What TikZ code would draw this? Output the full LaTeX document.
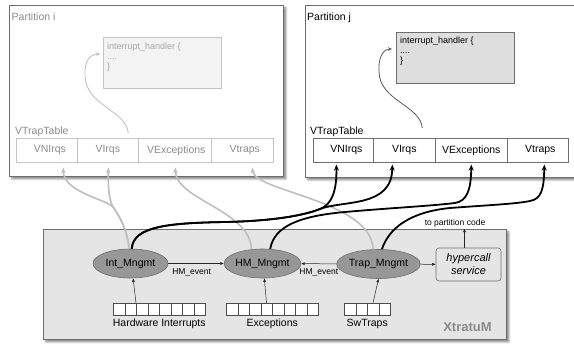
\documentclass[tikz,border=0pt]{standalone}
\usepackage{fontspec}
\setmainfont{Liberation Sans}
\usetikzlibrary{arrows.meta,shapes.geometric,calc,shadows.blur}

\definecolor{frameline}{HTML}{6E6E6E}
\definecolor{fadedtext}{HTML}{8C8C8C}
\definecolor{fadedline}{HTML}{C4C4C4}
\definecolor{fadedfill}{HTML}{F3F3F3}
\definecolor{codefill}{HTML}{DEDEDE}
\definecolor{kernelfill}{HTML}{E5E5E5}
\definecolor{mngrfill}{HTML}{979797}
\definecolor{fadedconn}{HTML}{BEBEBE}
\definecolor{brandgray}{HTML}{8A8A8A}

\begin{document}
\begin{tikzpicture}[x=1pt,y=-1pt,
  every node/.style={inner sep=0pt, font=\fontsize{10.5}{12.5}\selectfont},
  smallfont/.style={font=\fontsize{8.5}{10}\selectfont},
  codefont/.style={font=\fontsize{9}{10}\selectfont},
  shadowed/.style={blur shadow={shadow xshift=2.5pt, shadow yshift=-2.5pt,
      shadow blur steps=6, shadow blur radius=2pt, shadow opacity=50}},
  partbox/.style={draw=frameline, line width=0.7pt, fill=white, shadowed, anchor=north west},
  celli/.style={draw=fadedline, line width=0.6pt, text=fadedtext, minimum height=24, anchor=north west},
  cellj/.style={draw=frameline, line width=0.6pt, text=black, minimum height=24, anchor=north west},
  handleri/.style={draw=fadedline, line width=0.6pt, fill=fadedfill, minimum width=118, minimum height=51, anchor=north west},
  handlerj/.style={draw=frameline, line width=0.6pt, fill=codefill, minimum width=118, minimum height=51, anchor=north west},
  codetext/.style={codefont, align=left, anchor=north west},
  mngr/.style={ellipse, draw=frameline, line width=0.6pt, fill=mngrfill, minimum width=75, minimum height=29},
  slot/.style={draw=black!70, line width=0.5pt, fill=white, minimum width=11.5, minimum height=12, anchor=north west},
  thinarrow/.style={draw=black!85, line width=0.5pt, -{Latex[length=3.5pt,width=3pt]}},
  calli/.style={draw=fadedconn, line width=0.8pt, -{Stealth[length=4pt,width=3.5pt]}},
  callj/.style={draw=black!65, line width=0.8pt, -{Stealth[length=4pt,width=3.5pt]}},
  fadedpath/.style={draw=fadedconn, line width=1.6pt, -{Stealth[length=5.5pt,width=4.5pt]}},
  kernelpath/.style={draw=black, line width=1.8pt, -{Stealth[length=6pt,width=5pt]}}
]
\useasboundingbox (0,0) rectangle (574,346);
\begin{scope}
\clip (0,0) rectangle (574,346);

% ---------- partition i (inactive, drawn faded) ----------
\node[partbox, minimum width=274, minimum height=171] (parti) at (9,5) {};
\node[anchor=base west, text=fadedtext] (titlei) at (11.5,20) {Partition i};
\node[handleri] (hi) at (103,37) {};
\node[codetext, text=black!35] (codei) at ($(hi.north west)+(4,5.5)$) {interrupt\_handler \{\\....\\\}};
\node[anchor=base west, text=fadedtext] (vti) at (15,134.5) {VTrapTable};
\node[celli, minimum width=61] (i1) at (16,138) {\hspace{6pt}VNIrqs};
\node[celli, minimum width=61] (i2) at (77,138) {VIrqs};
\node[celli, minimum width=73] (i3) at (138,138) {\hspace{3pt}VExceptions};
\node[celli, minimum width=62] (i4) at (211,138) {\hspace{5pt}Vtraps};
\coordinate (iq) at ($(i2.north)+(20.5,-5)$);
\coordinate (ih) at ($(hi.north west)+(-3,17)$);
\draw[calli] (iq) .. controls (126,110) and (86,106) .. (85,76)
                  .. controls (84,60) and (91,54) .. (ih);

% ---------- partition j (active) ----------
\node[partbox, minimum width=285, minimum height=172] (partj) at (305,5) {};
\node[anchor=base west] (titlej) at (307,20) {Partition j};
\node[handlerj] (hj) at (396,32) {};
\node[codetext] (codej) at ($(hj.north west)+(4,4.5)$) {interrupt\_handler \{\\....\\\}};
\node[anchor=base west] (vtj) at (310,134.5) {VTrapTable};
\node[cellj, minimum width=60] (j1) at (313,138) {\hspace{6pt}VNIrqs};
\node[cellj, minimum width=62] (j2) at (373,138) {VIrqs};
\node[cellj, minimum width=72] (j3) at (435,138) {VExceptions};
\node[cellj, minimum width=61] (j4) at (507,138) {\hspace{5pt}Vtraps};
\coordinate (jq) at ($(j2.north)+(18,-10)$);
\coordinate (jh) at ($(hj.north west)+(-4,17)$);
\draw[callj] (jq) .. controls (420,105) and (380,101) .. (379,72)
                  .. controls (378,56) and (384,49) .. (jh);

% ---------- hypervisor ----------
\node[draw=frameline, line width=0.7pt, fill=kernelfill, shadowed, anchor=north west,
      minimum width=463, minimum height=110] (xm) at (43,229) {};
\node[font=\fontsize{13}{15}\selectfont\bfseries, text=brandgray] (brand) at (467.5,327) {XtratuM};

\node[mngr] (Int) at (130.5,263.5) {Int\_Mngmt};
\node[mngr] (HM) at (262.5,263.5) {HM\_Mngmt};
\node[mngr] (Trap) at (378.5,264) {Trap\_Mngmt};
\node[draw=frameline, line width=0.6pt, rounded corners=3pt, fill=kernelfill,
      minimum width=65, minimum height=33, align=center,
      font=\fontsize{11}{13}\selectfont\itshape] (hyper) at (468.5,264.5) {hypercall\\service};

\draw[thinarrow] (Int) -- node[smallfont, below=5pt, pos=0.42] (ev1) {HM\_event} (HM);
\draw[thinarrow] (Trap) -- node[smallfont, below=5pt] (ev2) {HM\_event} (HM);
\draw[thinarrow] (Trap) -- (hyper);

\node[smallfont] (topc) at (455,223) {to partition code};
\coordinate (hup) at ($(hyper.north)+(-4,0)$);
\draw[thinarrow, shorten >=1.5pt] (hup) -- (hup |- topc.south);

% event sources
\foreach \k in {0,...,7} \node[slot] (hw\k) at (113+11.5*\k,303) {};
\foreach \k in {0,...,7} \node[slot] (ex\k) at (226+11.5*\k,303) {};
\foreach \k in {0,...,3} \node[slot] (sw\k) at (344+11.5*\k,303) {};
\node[anchor=north] (hwlabel) at ($(hw0.south west)!0.5!(hw7.south east)+(0,3)$) {Hardware Interrupts};
\node[anchor=north] (exlabel) at ($(ex0.south west)!0.5!(ex7.south east)+(0,3)$) {Exceptions};
\node[anchor=north] (swlabel) at ($(sw0.south west)!0.5!(sw3.south east)+(0,3)$) {SwTraps};

\draw[thinarrow] (hw2.north west) -- (Int.-80);
\draw[thinarrow] (ex3.north) -- (HM.-83);
\draw[thinarrow] (sw2.north) -- (Trap.south);

% ---------- virtual trap delivery to partition i ----------
\coordinate (gsplit) at (113,207);
\coordinate (gt1) at ($(i1.south)+(16.5,5)$);
\coordinate (gt2) at ($(i2.south)+(0.5,5)$);
\coordinate (gt3) at ($(i3.south)+(0.5,5)$);
\coordinate (gt4) at ($(i4.south)+(10,5)$);
\draw[fadedpath] (Int.95) .. controls (127,228) and (118,214) .. (gsplit)
                 .. controls (108,200) and (63,192) .. (gt1);
\draw[fadedpath] (Int.95) .. controls (127,228) and (118,214) .. (gsplit)
                 .. controls (109,199) and (108,188) .. (gt2);
\draw[fadedpath] (HM.128) .. controls (250,210) and (176,200) .. (gt3);
\draw[fadedpath] (Trap.110) .. controls (371,200) and (255,192) .. (gt4);

% ---------- virtual trap delivery to partition j ----------
\coordinate (kA) at (225,222);
\coordinate (ksplit) at (320,209);
\coordinate (kB) at (345,212);
\coordinate (kC) at (455,203);
\coordinate (kD) at (450,208);
\coordinate (kE) at (530,201);
\coordinate (kt1) at ($(j1.south)+(-7,2)$);
\coordinate (kt2) at ($(j2.south)+(-12,2)$);
\coordinate (kt3) at ($(j3.south)+(0,2)$);
\coordinate (kt4) at ($(j4.south)+(6.5,2)$);
\draw[kernelpath] (Int.85) .. controls (133,226) and (170,223) .. (kA)
                  .. controls (275,221) and (305,215) .. (ksplit)
                  .. controls (331,205) and (337,192) .. (kt1);
\draw[kernelpath] (Int.85) .. controls (133,226) and (170,223) .. (kA)
                  .. controls (275,221) and (305,215) .. (ksplit)
                  .. controls (343,200) and (392,208) .. (kt2);
\draw[kernelpath] (HM.62) .. controls (274,226) and (300,216) .. (kB)
                  .. controls (390,208) and (430,206) .. (kC)
                  .. controls (467,201) and (471,190) .. (kt3);
\draw[kernelpath] (Trap.77) .. controls (389,228) and (410,212) .. (kD)
                  .. controls (490,205) and (515,204) .. (kE)
                  .. controls (541,199) and (544,190) .. (kt4);
\end{scope}
\end{tikzpicture}
\end{document}
